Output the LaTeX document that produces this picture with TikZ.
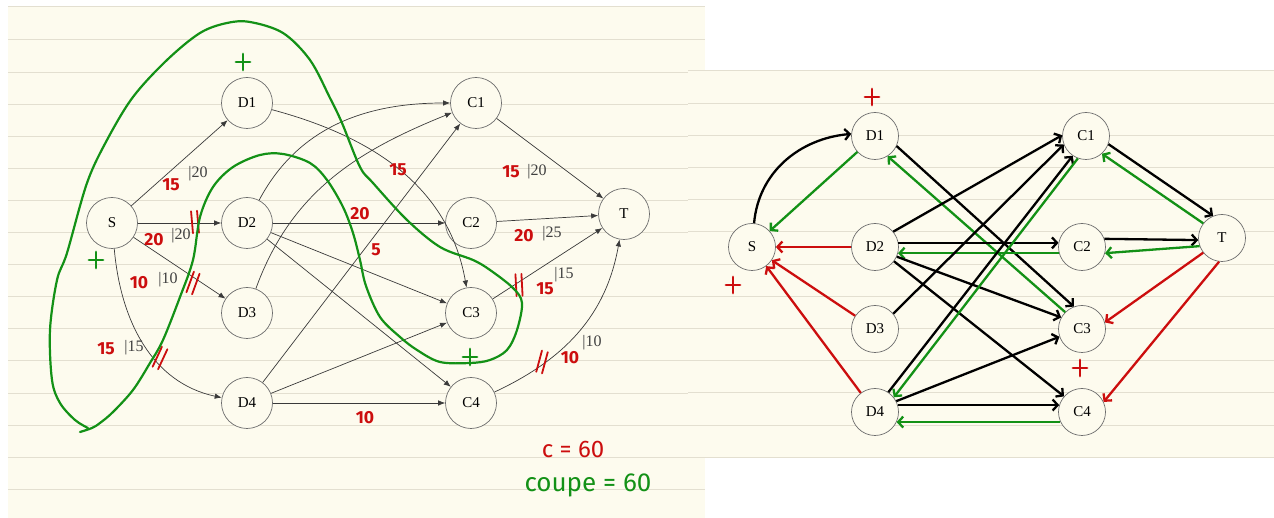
\documentclass[tikz,border=0pt]{standalone}
\usepackage{fontspec}
\setmainfont{Liberation Serif}
\newfontfamily\handfont{Fira Sans}
\usetikzlibrary{arrows.meta}

\definecolor{paper}{HTML}{FDFBEE}
\definecolor{rulecol}{HTML}{E3DFD0}
\definecolor{inkred}{HTML}{CC0E0E}
\definecolor{inkgreen}{HTML}{139116}
\definecolor{edgegray}{HTML}{3A3A3A}

\tikzset{
  vertex/.style={circle, draw=gray!85!black, line width=0.7pt, fill=paper,
    minimum size=51pt, inner sep=0pt, font=\fontsize{15}{18}\selectfont},
  smallvertex/.style={vertex, minimum size=47pt},
  flow/.style={draw=edgegray, line width=0.7pt, -{Latex[length=7pt,width=5.5pt]}},
  capa/.style={text=black!75, inner sep=1pt, font=\fontsize{16}{19}\selectfont},
  val/.style={text=inkred, inner sep=1pt, font=\handfont\bfseries\fontsize{17.5}{20}\selectfont},
  res/.style={line width=2.3pt, -{Straight Barb[length=5pt,width=11pt]}},
  fwd/.style={res, draw=black},
  bwd/.style={res, draw=inkgreen},
  sat/.style={res, draw=inkred},
}

% two short strokes across a saturated edge
\newcommand{\cutmark}[3]{%
  \draw[inkred, line width=1.8pt, line cap=round, rotate around={#3:(#1,#2)}]
    (#1-3,#2-11) -- (#1-3,#2+11) (#1+3,#2-11) -- (#1+3,#2+11);}
% hand drawn plus sign
\newcommand{\plusmark}[3]{%
  \draw[#3, line width=2.8pt, line cap=round] (#1-7,#2) -- (#1+7,#2) (#1,#2-8) -- (#1,#2+8);}

\begin{document}
\begin{tikzpicture}[x=1pt,y=1pt]

\pgfmathsetmacro{\rulestep}{32.1}
\useasboundingbox (0,0) rectangle (1274,518);

% Ruled paper:
\fill[paper] (8,0) rectangle (705,511);
\draw[rulecol, line width=1pt] (8,511) -- (705,511);
\foreach \k in {0,...,14}
  \draw[rulecol, line width=1pt] (8,{478-\rulestep*\k}) -- (705,{478-\rulestep*\k});
\fill[paper] (688,61) rectangle (1274,447);
\foreach \k in {0,...,12}
  \draw[rulecol, line width=1pt] (688,{447-32.2*\k}) -- (1274,{447-32.2*\k});

% Left network, capacities in grey
\node[vertex] (lS)  at (112,295) {S};
\node[vertex] (lD1) at (247,415) {D1};
\node[vertex] (lD2) at (247,295) {D2};
\node[vertex] (lD3) at (247,205) {D3};
\node[vertex] (lD4) at (247,115) {D4};
\node[vertex] (lC1) at (476,415) {C1};
\node[vertex] (lC2) at (471,295) {C2};
\node[vertex] (lC3) at (471,205) {C3};
\node[vertex] (lC4) at (471,115) {C4};
\node[vertex] (lT)  at (624,304) {T};

\draw[flow] (lS) -- (lD1);
\draw[flow] (lS) -- (lD2);
\draw[flow] (lS) -- (lD3);
\draw[flow] (lS) to[out=-85,in=168] (lD4);
\draw[flow] (lD1) to[out=-15,in=100] (lC3);
\draw[flow] (lD2) to[out=62,in=180] (lC1);
\draw[flow] (lD2) -- (lC2);
\draw[flow] (lD2) -- (lC3);
\draw[flow] (lD2) -- (lC4);
\draw[flow] (lD3) to[out=70,in=202] (lC1);
\draw[flow] (lD4) -- (lC1);
\draw[flow] (lD4) -- (lC3);
\draw[flow] (lD4) -- (lC4);
\draw[flow] (lC1) -- (lT);
\draw[flow] (lC2) -- (lT);
\draw[flow] (lC3) -- (lT);
\draw[flow] (lC4) to[out=25,in=-100] (lT);

\node[capa] (k1) at (198,344) {|20};
\node[capa] (k2) at (181,282) {|20};
\node[capa] (k3) at (168,238) {|10};
\node[capa] (k4) at (134,170) {|15};
\node[capa] (k5) at (537,346) {|20};
\node[capa] (k6) at (552,284) {|25};
\node[capa] (k7) at (564,243) {|15};
\node[capa] (k8) at (592,175) {|10};

% flow values written over it
\node[val] (f1)  at (171,333) {15};
\node[val] (f2)  at (154,278) {20};
\node[val] (f3)  at (139,235) {10};
\node[val] (f4)  at (106,169) {15};
\node[val] (f5)  at (398,348) {15};
\node[val] (f6)  at (360,304) {20};
\node[val] (f7)  at (376,268) {5};
\node[val] (f8)  at (365,100) {10};
\node[val] (f9)  at (511,346) {15};
\node[val] (f10) at (524,282) {20};
\node[val] (f11) at (545,229) {15};
\node[val] (f12) at (570,160) {10};

\cutmark{195}{296}{5}
\cutmark{193}{235}{-20}
\cutmark{160}{160}{-25}
\cutmark{519}{233}{3}
\cutmark{542}{156}{-15}

% Cut drawn around S, D1 and C3
\draw[inkgreen, line width=2.2pt, line cap=round, line join=round]
  plot[smooth, tension=0.55] coordinates {
  (80,86) (92,90) (100,95) (113,106) (133,128) (150,155) (163,178) (180,221)
  (193,258) (200,301) (213,331) (233,351) (260,363) (283,364) (310,355)
  (327,338) (343,311) (353,285) (360,258) (366,232) (380,201) (400,181)
  (417,168) (440,156) (470,155) (490,158) (507,168) (517,188) (522,215)
  (513,230) (490,248) (473,258) (440,271) (407,298) (373,335) (360,351)
  (342,395) (330,420) (310,458) (283,485) (250,496) (227,495) (200,485)
  (167,458) (133,421) (107,378) (87,335) (67,265) (57,238) (50,188)
  (52,138) (60,115) (75,98) (88,90)};

\plusmark{243}{456}{inkgreen}
\plusmark{96}{258}{inkgreen}
\plusmark{470}{161}{inkgreen}

\node[text=inkred, font=\handfont\fontsize{24}{28}\selectfont] (cval) at (573,68) {c = 60};
\node[text=inkgreen, font=\handfont\fontsize{26}{30}\selectfont] (cut) at (588,33) {coupe = 60};

% Right network: residual graph
\node[smallvertex] (rS)  at (752,271) {S};
\node[smallvertex] (rD1) at (875,382) {D1};
\node[smallvertex] (rD2) at (875,271) {D2};
\node[smallvertex] (rD3) at (875,189) {D3};
\node[smallvertex] (rD4) at (875,106) {D4};
\node[smallvertex] (rC1) at (1086,382) {C1};
\node[smallvertex] (rC2) at (1082,271) {C2};
\node[smallvertex] (rC3) at (1082,189) {C3};
\node[smallvertex] (rC4) at (1082,106) {C4};
\node[smallvertex] (rT)  at (1222,280) {T};

\draw[fwd] (rS.85) to[out=85,in=185] (rD1.175);
\draw[bwd] (rD1) -- (rS);
\draw[sat] (rD2) -- (rS);
\draw[sat] (rD3) -- (rS);
\draw[sat] (rD4) -- (rS);

\draw[fwd] (rD1.-25) -- (rC3.110);
\draw[bwd] (rC3.135) -- (rD1.-58);
\draw[fwd] (rD2.40) -- (rC1.178);
\draw[fwd] (rD2.10) -- (rC2.170);
\draw[bwd] (rC2.195) -- (rD2.-15);
\draw[fwd] (rD2.-24) -- (rC3.151);
\draw[fwd] (rD2.-37) -- (rC4.139);
\draw[fwd] (rD3.40) -- (rC1.201);
\draw[fwd] (rD4.56) -- (rC1.236);
\draw[bwd] (rC1.250) -- (rD4.38);
\draw[fwd] (rD4.27) -- (rC3.199);
\draw[fwd] (rD4.17) -- (rC4.163);
\draw[bwd] (rC4.205) -- (rD4.-25);

\draw[fwd] (rC1.-20) -- (rT.112);
\draw[bwd] (rT.142) -- (rC1.-48);
\draw[fwd] (rC2.20) -- (rT.185);
\draw[bwd] (rT.200) -- (rC2.-15);
\draw[sat] (rT.218) -- (rC3.16);
\draw[sat] (rT.263) -- (rC4.25);

\plusmark{872}{421}{inkred}
\plusmark{733}{233}{inkred}
\plusmark{1080}{150}{inkred}

\end{tikzpicture}
\end{document}
